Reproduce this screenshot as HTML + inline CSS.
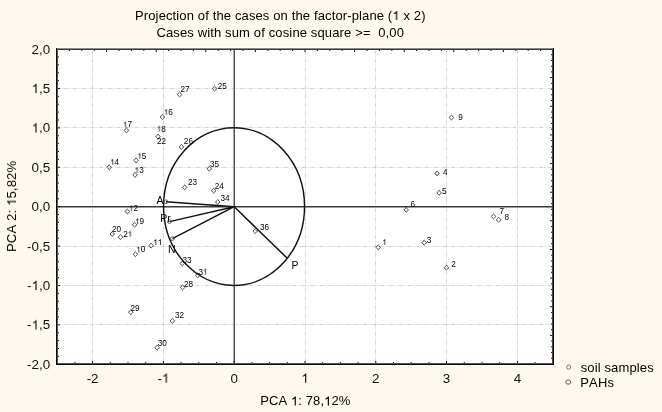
<!DOCTYPE html>
<html><head><meta charset="utf-8"><style>
html,body{margin:0;padding:0;background:#fef9ee;}
svg{display:block;font-family:"Liberation Sans",sans-serif;}
text{will-change:transform;font-kerning:none;}
</style></head><body>
<svg width="662" height="412" viewBox="0 0 662 412">
<rect x="0" y="0" width="662" height="412" fill="#fef9ee"></rect>
<rect x="55" y="47" width="500" height="319" fill="#ffffff"></rect>
<path d="M92.50 51V363 M163.50 51V363 M305.50 51V363 M375.50 51V363 M446.50 51V363 M517.50 51V363 M56 88.50H552 M56 127.50H552 M56 167.50H552 M56 246.50H552 M56 285.50H552 M56 324.50H552" stroke="#ebebeb" stroke-width="1" fill="none"></path>
<path d="M92.50 51V363 M163.50 51V363 M305.50 51V363 M375.50 51V363 M446.50 51V363 M517.50 51V363 M56 88.50H552 M56 127.50H552 M56 167.50H552 M56 246.50H552 M56 285.50H552 M56 324.50H552" stroke="#cdcdcd" stroke-width="1" stroke-dasharray="2.2 6.6" fill="none"></path>
<path d="M58 206.5H552" stroke="#3c3c3c" stroke-width="1" fill="none"></path>
<path d="M234.5 50V363" stroke="#505050" stroke-width="1" fill="none"></path>
<path d="M58 207.5H552" stroke="#9a9a9a" stroke-width="1" fill="none"></path>
<path d="M233.5 50V206M233.5 208V363" stroke="#a8a8a8" stroke-width="1" fill="none"></path>
<ellipse cx="234.05" cy="206.55" rx="70.5" ry="78.85" stroke="#111" stroke-width="1.45" fill="none"></ellipse>
<path d="M234.20 206.67L166.0 201.8 M234.20 206.67L169.5 221.6 M234.20 206.67L172.4 238.6 M234.20 206.67L287.3 258.3" stroke="#111" stroke-width="1.45" fill="none"></path>
<circle cx="166.0" cy="201.8" r="1.9" stroke="#555" stroke-width="0.9" fill="none"></circle>
<circle cx="169.5" cy="221.6" r="1.9" stroke="#555" stroke-width="0.9" fill="none"></circle>
<circle cx="172.4" cy="238.6" r="1.9" stroke="#555" stroke-width="0.9" fill="none"></circle>
<g font-size="10.5" fill="#000">
<text x="156.6" y="203.6">A</text>
<text x="160.2" y="221.7">Pr</text>
<text x="168.1" y="252.5">N</text>
<text x="291.4" y="268.9">P</text>
</g>
<path d="M179.60 92.10L180.80 93.20L181.75 94.50L180.80 95.80L179.60 96.90L178.40 95.80L177.45 94.50L178.40 93.20Z M214.60 86.20L215.80 87.30L216.75 88.60L215.80 89.90L214.60 91.00L213.40 89.90L212.45 88.60L213.40 87.30Z M162.40 114.60L163.60 115.70L164.55 117.00L163.60 118.30L162.40 119.40L161.20 118.30L160.25 117.00L161.20 115.70Z M126.40 128.00L127.60 129.10L128.55 130.40L127.60 131.70L126.40 132.80L125.20 131.70L124.25 130.40L125.20 129.10Z M158.00 134.20L159.20 135.30L160.15 136.60L159.20 137.90L158.00 139.00L156.80 137.90L155.85 136.60L156.80 135.30Z M181.40 144.50L182.60 145.60L183.55 146.90L182.60 148.20L181.40 149.30L180.20 148.20L179.25 146.90L180.20 145.60Z M109.20 164.90L110.40 166.00L111.35 167.30L110.40 168.60L109.20 169.70L108.00 168.60L107.05 167.30L108.00 166.00Z M136.10 158.00L137.30 159.10L138.25 160.40L137.30 161.70L136.10 162.80L134.90 161.70L133.95 160.40L134.90 159.10Z M135.10 172.50L136.30 173.60L137.25 174.90L136.30 176.20L135.10 177.30L133.90 176.20L132.95 174.90L133.90 173.60Z M209.30 166.40L210.50 167.50L211.45 168.80L210.50 170.10L209.30 171.20L208.10 170.10L207.15 168.80L208.10 167.50Z M213.60 188.30L214.80 189.40L215.75 190.70L214.80 192.00L213.60 193.10L212.40 192.00L211.45 190.70L212.40 189.40Z M217.80 199.60L219.00 200.70L219.95 202.00L219.00 203.30L217.80 204.40L216.60 203.30L215.65 202.00L216.60 200.70Z M184.70 185.00L185.90 186.10L186.85 187.40L185.90 188.70L184.70 189.80L183.50 188.70L182.55 187.40L183.50 186.10Z M127.30 209.10L128.50 210.20L129.45 211.50L128.50 212.80L127.30 213.90L126.10 212.80L125.15 211.50L126.10 210.20Z M134.60 222.40L135.80 223.50L136.75 224.80L135.80 226.10L134.60 227.20L133.40 226.10L132.45 224.80L133.40 223.50Z M112.30 231.60L113.50 232.70L114.45 234.00L113.50 235.30L112.30 236.40L111.10 235.30L110.15 234.00L111.10 232.70Z M120.50 234.70L121.70 235.80L122.65 237.10L121.70 238.40L120.50 239.50L119.30 238.40L118.35 237.10L119.30 235.80Z M151.10 243.20L152.30 244.30L153.25 245.60L152.30 246.90L151.10 248.00L149.90 246.90L148.95 245.60L149.90 244.30Z M135.40 251.90L136.60 253.00L137.55 254.30L136.60 255.60L135.40 256.70L134.20 255.60L133.25 254.30L134.20 253.00Z M182.30 261.10L183.50 262.20L184.45 263.50L183.50 264.80L182.30 265.90L181.10 264.80L180.15 263.50L181.10 262.20Z M197.80 272.90L199.00 274.00L199.95 275.30L199.00 276.60L197.80 277.70L196.60 276.60L195.65 275.30L196.60 274.00Z M182.60 285.00L183.80 286.10L184.75 287.40L183.80 288.70L182.60 289.80L181.40 288.70L180.45 287.40L181.40 286.10Z M130.80 309.80L132.00 310.90L132.95 312.20L132.00 313.50L130.80 314.60L129.60 313.50L128.65 312.20L129.60 310.90Z M172.40 318.50L173.60 319.60L174.55 320.90L173.60 322.20L172.40 323.30L171.20 322.20L170.25 320.90L171.20 319.60Z M157.10 345.30L158.30 346.40L159.25 347.70L158.30 349.00L157.10 350.10L155.90 349.00L154.95 347.70L155.90 346.40Z M255.20 228.70L256.40 229.80L257.35 231.10L256.40 232.40L255.20 233.50L254.00 232.40L253.05 231.10L254.00 229.80Z M451.40 115.10L452.60 116.20L453.55 117.50L452.60 118.80L451.40 119.90L450.20 118.80L449.25 117.50L450.20 116.20Z M437.10 171.00L438.30 172.10L439.25 173.40L438.30 174.70L437.10 175.80L435.90 174.70L434.95 173.40L435.90 172.10Z M439.10 190.40L440.30 191.50L441.25 192.80L440.30 194.10L439.10 195.20L437.90 194.10L436.95 192.80L437.90 191.50Z M406.20 207.40L407.40 208.50L408.35 209.80L407.40 211.10L406.20 212.20L405.00 211.10L404.05 209.80L405.00 208.50Z M493.50 214.00L494.70 215.10L495.65 216.40L494.70 217.70L493.50 218.80L492.30 217.70L491.35 216.40L492.30 215.10Z M498.60 217.40L499.80 218.50L500.75 219.80L499.80 221.10L498.60 222.20L497.40 221.10L496.45 219.80L497.40 218.50Z M378.20 244.90L379.40 246.00L380.35 247.30L379.40 248.60L378.20 249.70L377.00 248.60L376.05 247.30L377.00 246.00Z M424.20 240.30L425.40 241.40L426.35 242.70L425.40 244.00L424.20 245.10L423.00 244.00L422.05 242.70L423.00 241.40Z M446.40 265.30L447.60 266.40L448.55 267.70L447.60 269.00L446.40 270.10L445.20 269.00L444.25 267.70L445.20 266.40Z" stroke="#333" stroke-width="0.9" fill="none"></path>
<g font-size="8.2" fill="#000">
<text x="180.55" y="91.60">27</text>
<text x="217.65" y="88.70">25</text>
<text x="163.81" y="114.90"> 6</text><g fill="rgb(0, 0, 0)"><path d="M763 0H583V1100Q500 1030 410 985Q310 935 223 905V1075Q380 1140 480 1230Q580 1320 630 1409H763Z" transform="translate(163.81 114.90) scale(0.004004 -0.004004)"></path></g>
<text x="122.91" y="127.40"> 7</text><g fill="rgb(0, 0, 0)"><path d="M763 0H583V1100Q500 1030 410 985Q310 935 223 905V1075Q380 1140 480 1230Q580 1320 630 1409H763Z" transform="translate(122.91 127.40) scale(0.004004 -0.004004)"></path></g>
<text x="156.71" y="131.70"> 8</text><g fill="rgb(0, 0, 0)"><path d="M763 0H583V1100Q500 1030 410 985Q310 935 223 905V1075Q380 1140 480 1230Q580 1320 630 1409H763Z" transform="translate(156.71 131.70) scale(0.004004 -0.004004)"></path></g>
<text x="157.05" y="144.40">22</text>
<text x="183.85" y="143.70">26</text>
<text x="110.01" y="164.70"> 4</text><g fill="rgb(0, 0, 0)"><path d="M763 0H583V1100Q500 1030 410 985Q310 935 223 905V1075Q380 1140 480 1230Q580 1320 630 1409H763Z" transform="translate(110.01 164.70) scale(0.004004 -0.004004)"></path></g>
<text x="137.31" y="158.80"> 5</text><g fill="rgb(0, 0, 0)"><path d="M763 0H583V1100Q500 1030 410 985Q310 935 223 905V1075Q380 1140 480 1230Q580 1320 630 1409H763Z" transform="translate(137.31 158.80) scale(0.004004 -0.004004)"></path></g>
<text x="134.61" y="173.00"> 3</text><g fill="rgb(0, 0, 0)"><path d="M763 0H583V1100Q500 1030 410 985Q310 935 223 905V1075Q380 1140 480 1230Q580 1320 630 1409H763Z" transform="translate(134.61 173.00) scale(0.004004 -0.004004)"></path></g>
<text x="210.06" y="167.00">35</text>
<text x="214.65" y="188.60">24</text>
<text x="220.46" y="201.30">34</text>
<text x="187.95" y="184.70">23</text>
<text x="128.91" y="211.20"> 2</text><g fill="rgb(0, 0, 0)"><path d="M763 0H583V1100Q500 1030 410 985Q310 935 223 905V1075Q380 1140 480 1230Q580 1320 630 1409H763Z" transform="translate(128.91 211.20) scale(0.004004 -0.004004)"></path></g>
<text x="135.01" y="224.10"> 9</text><g fill="rgb(0, 0, 0)"><path d="M763 0H583V1100Q500 1030 410 985Q310 935 223 905V1075Q380 1140 480 1230Q580 1320 630 1409H763Z" transform="translate(135.01 224.10) scale(0.004004 -0.004004)"></path></g>
<text x="112.05" y="231.80">20</text>
<text x="123.15" y="236.70">2 </text><g fill="rgb(0, 0, 0)"><path d="M763 0H583V1100Q500 1030 410 985Q310 935 223 905V1075Q380 1140 480 1230Q580 1320 630 1409H763Z" transform="translate(127.70 236.70) scale(0.004004 -0.004004)"></path></g>
<text x="153.21" y="245.00">  </text><g fill="rgb(0, 0, 0)"><path d="M763 0H583V1100Q500 1030 410 985Q310 935 223 905V1075Q380 1140 480 1230Q580 1320 630 1409H763Z" transform="translate(153.21 245.00) scale(0.004004 -0.004004)"></path><path d="M763 0H583V1100Q500 1030 410 985Q310 935 223 905V1075Q380 1140 480 1230Q580 1320 630 1409H763Z" transform="translate(157.76 245.00) scale(0.004004 -0.004004)"></path></g>
<text x="136.21" y="252.30"> 0</text><g fill="rgb(0, 0, 0)"><path d="M763 0H583V1100Q500 1030 410 985Q310 935 223 905V1075Q380 1140 480 1230Q580 1320 630 1409H763Z" transform="translate(136.21 252.30) scale(0.004004 -0.004004)"></path></g>
<text x="182.46" y="262.70">33</text>
<text x="198.46" y="274.50">3 </text><g fill="rgb(0, 0, 0)"><path d="M763 0H583V1100Q500 1030 410 985Q310 935 223 905V1075Q380 1140 480 1230Q580 1320 630 1409H763Z" transform="translate(203.01 274.50) scale(0.004004 -0.004004)"></path></g>
<text x="183.95" y="286.50">28</text>
<text x="130.55" y="310.60">29</text>
<text x="174.96" y="318.00">32</text>
<text x="157.76" y="345.90">30</text>
<text x="260.06" y="230.10">36</text>
<text x="458.37" y="119.80">9</text>
<text x="442.89" y="174.60">4</text>
<text x="441.96" y="194.00">5</text>
<text x="410.56" y="206.50">6</text>
<text x="499.39" y="214.20">7</text>
<text x="504.54" y="220.00">8</text>
<text x="382.21" y="244.90"> </text><g fill="rgb(0, 0, 0)"><path d="M763 0H583V1100Q500 1030 410 985Q310 935 223 905V1075Q380 1140 480 1230Q580 1320 630 1409H763Z" transform="translate(382.21 244.90) scale(0.004004 -0.004004)"></path></g>
<text x="426.66" y="242.70">3</text>
<text x="451.35" y="266.60">2</text>
</g>
<path d="M58 56.97h1 M58 64.85h1 M58 72.73h1 M58 80.61h1 M58 88.48h2 M58 96.36h1 M58 104.24h1 M58 112.12h1 M58 120.00h1 M58 127.88h2 M58 135.76h1 M58 143.64h1 M58 151.52h1 M58 159.40h1 M58 167.27h2 M58 175.15h1 M58 183.03h1 M58 190.91h1 M58 198.79h1 M58 206.67h2 M58 214.55h1 M58 222.43h1 M58 230.31h1 M58 238.19h1 M58 246.06h2 M58 253.94h1 M58 261.82h1 M58 269.70h1 M58 277.58h1 M58 285.46h2 M58 293.34h1 M58 301.22h1 M58 309.10h1 M58 316.98h1 M58 324.86h2 M58 332.73h1 M58 340.61h1 M58 348.49h1 M58 356.37h1 M552 54.73h-1 M552 60.45h-1 M552 66.18h-1 M552 71.91h-1 M552 77.64h-2 M552 83.36h-1 M552 89.09h-1 M552 94.82h-1 M552 100.55h-1 M552 106.27h-2 M552 112.00h-1 M552 117.73h-1 M552 123.45h-1 M552 129.18h-1 M552 134.91h-2 M552 140.64h-1 M552 146.36h-1 M552 152.09h-1 M552 157.82h-1 M552 163.55h-2 M552 169.27h-1 M552 175.00h-1 M552 180.73h-1 M552 186.45h-1 M552 192.18h-2 M552 197.91h-1 M552 203.64h-1 M552 209.36h-1 M552 215.09h-1 M552 220.82h-2 M552 226.55h-1 M552 232.27h-1 M552 238.00h-1 M552 243.73h-1 M552 249.45h-2 M552 255.18h-1 M552 260.91h-1 M552 266.64h-1 M552 272.36h-1 M552 278.09h-2 M552 283.82h-1 M552 289.55h-1 M552 295.27h-1 M552 301.00h-1 M552 306.73h-2 M552 312.45h-1 M552 318.18h-1 M552 323.91h-1 M552 329.64h-1 M552 335.36h-2 M552 341.09h-1 M552 346.82h-1 M552 352.55h-1 M552 358.27h-1 M69.40 50v1 M81.80 50v1 M94.20 50v1 M106.60 50v2 M119.00 50v1 M131.40 50v1 M143.80 50v1 M156.20 50v2 M168.60 50v1 M181.00 50v1 M193.40 50v1 M205.80 50v2 M218.20 50v1 M230.60 50v1 M243.00 50v1 M255.40 50v2 M267.80 50v1 M280.20 50v1 M292.60 50v1 M305.00 50v2 M317.40 50v1 M329.80 50v1 M342.20 50v1 M354.60 50v2 M367.00 50v1 M379.40 50v1 M391.80 50v1 M404.20 50v2 M416.60 50v1 M429.00 50v1 M441.40 50v1 M453.80 50v2 M466.20 50v1 M478.60 50v1 M491.00 50v1 M503.40 50v2 M515.80 50v1 M528.20 50v1 M540.60 50v1 M74.90 363v-1 M92.60 363v-2 M110.30 363v-1 M128.00 363v-1 M145.70 363v-1 M163.40 363v-2 M181.10 363v-1 M198.80 363v-1 M216.50 363v-1 M234.20 363v-2 M251.90 363v-1 M269.60 363v-1 M287.30 363v-1 M305.00 363v-2 M322.70 363v-1 M340.40 363v-1 M358.10 363v-1 M375.80 363v-2 M393.50 363v-1 M411.20 363v-1 M428.90 363v-1 M446.60 363v-2 M464.30 363v-1 M482.00 363v-1 M499.70 363v-1 M517.40 363v-2 M535.10 363v-1" stroke="#111" stroke-width="1" fill="none"></path>
<path d="M56 48.5H554" stroke="#8a8a8a" stroke-width="1"></path>
<path d="M57 49.5H553" stroke="#3a3a3a" stroke-width="1"></path>
<path d="M56 363.5H554" stroke="#555" stroke-width="1"></path>
<path d="M56 364.5H554" stroke="#0a0a0a" stroke-width="1"></path>
<path d="M56.5 48V365" stroke="#0a0a0a" stroke-width="1"></path>
<path d="M57.5 50V363" stroke="#555" stroke-width="1"></path>
<path d="M553.5 48V365" stroke="#0a0a0a" stroke-width="1"></path>
<path d="M552.5 50V363" stroke="#444" stroke-width="1"></path>
<g font-size="13.4" fill="#111">
<text x="50.2" y="53.69" text-anchor="end">2,0</text>
<text x="50.2" y="93.08" text-anchor="end"> ,5</text><g fill="rgb(17, 17, 17)"><path d="M763 0H583V1100Q500 1030 410 985Q310 935 223 905V1075Q380 1140 480 1230Q580 1320 630 1409H763Z" transform="translate(31.58 93.08) scale(0.006543 -0.006543)"></path></g>
<text x="50.2" y="132.48" text-anchor="end"> ,0</text><g fill="rgb(17, 17, 17)"><path d="M763 0H583V1100Q500 1030 410 985Q310 935 223 905V1075Q380 1140 480 1230Q580 1320 630 1409H763Z" transform="translate(31.58 132.48) scale(0.006543 -0.006543)"></path></g>
<text x="50.2" y="171.87" text-anchor="end">0,5</text>
<text x="50.2" y="211.27" text-anchor="end">0,0</text>
<text x="50.2" y="250.66" text-anchor="end">-0,5</text>
<text x="50.2" y="290.06" text-anchor="end">- ,0</text><g fill="rgb(17, 17, 17)"><path d="M763 0H583V1100Q500 1030 410 985Q310 935 223 905V1075Q380 1140 480 1230Q580 1320 630 1409H763Z" transform="translate(31.58 290.06) scale(0.006543 -0.006543)"></path></g>
<text x="50.2" y="329.46" text-anchor="end">- ,5</text><g fill="rgb(17, 17, 17)"><path d="M763 0H583V1100Q500 1030 410 985Q310 935 223 905V1075Q380 1140 480 1230Q580 1320 630 1409H763Z" transform="translate(31.58 329.46) scale(0.006543 -0.006543)"></path></g>
<text x="50.2" y="368.85" text-anchor="end">-2,0</text>
<text x="92.60" y="382.7" text-anchor="middle">-2</text>
<text x="163.40" y="382.7" text-anchor="middle">- </text><g fill="rgb(17, 17, 17)"><path d="M763 0H583V1100Q500 1030 410 985Q310 935 223 905V1075Q380 1140 480 1230Q580 1320 630 1409H763Z" transform="translate(161.89 382.70) scale(0.006543 -0.006543)"></path></g>
<text x="234.20" y="382.7" text-anchor="middle">0</text>
<text x="305.00" y="382.7" text-anchor="middle"> </text><g fill="rgb(17, 17, 17)"><path d="M763 0H583V1100Q500 1030 410 985Q310 935 223 905V1075Q380 1140 480 1230Q580 1320 630 1409H763Z" transform="translate(301.27 382.70) scale(0.006543 -0.006543)"></path></g>
<text x="375.80" y="382.7" text-anchor="middle">2</text>
<text x="446.60" y="382.7" text-anchor="middle">3</text>
<text x="517.40" y="382.7" text-anchor="middle">4</text>
</g>
<g font-size="13" fill="#000">
<text x="135" y="20.0" textLength="290.5" lengthAdjust="spacing">Projection of the cases on the factor-plane (  x 2)</text><g fill="rgb(0, 0, 0)"><path d="M763 0H583V1100Q500 1030 410 985Q310 935 223 905V1075Q380 1140 480 1230Q580 1320 630 1409H763Z" transform="translate(392.32 20.00) scale(0.006348 -0.006348)"></path></g>
<text x="156.4" y="36.8" xml:space="preserve" textLength="247.5" lengthAdjust="spacing">Cases with sum of cosine square &gt;=  0,00</text>
<text x="260.3" y="405.4" textLength="90" lengthAdjust="spacing">PCA  : 78, 2%</text><g fill="rgb(0, 0, 0)"><path d="M763 0H583V1100Q500 1030 410 985Q310 935 223 905V1075Q380 1140 480 1230Q580 1320 630 1409H763Z" transform="translate(291.00 405.40) scale(0.006348 -0.006348)"></path><path d="M763 0H583V1100Q500 1030 410 985Q310 935 223 905V1075Q380 1140 480 1230Q580 1320 630 1409H763Z" transform="translate(324.10 405.40) scale(0.006348 -0.006348)"></path></g>
<text transform="translate(16.0 251.9) rotate(-90)" textLength="91" lengthAdjust="spacing">PCA 2:  5,82%</text><g transform="translate(16.0 251.9) rotate(-90)" fill="rgb(0, 0, 0)"><path d="M763 0H583V1100Q500 1030 410 985Q310 935 223 905V1075Q380 1140 480 1230Q580 1320 630 1409H763Z" transform="translate(46.03 0.00) scale(0.006348 -0.006348)"></path></g>
<text x="580.7" y="371.6" textLength="73" lengthAdjust="spacing">soil samples</text>
<text x="580.3" y="386.5" textLength="33.6" lengthAdjust="spacing">PAHs</text>
</g>
<path d="M568.7 365.0L570.2 365.6L570.8 367.1L570.2 368.6L568.7 369.2L567.2 368.6L566.6 367.1L567.2 365.6Z" stroke="#666" stroke-width="0.9" fill="none"></path>
<ellipse cx="568.2" cy="382.1" rx="2.5" ry="2.1" stroke="#555" stroke-width="0.9" fill="none"></ellipse>
</svg>

</body></html>
